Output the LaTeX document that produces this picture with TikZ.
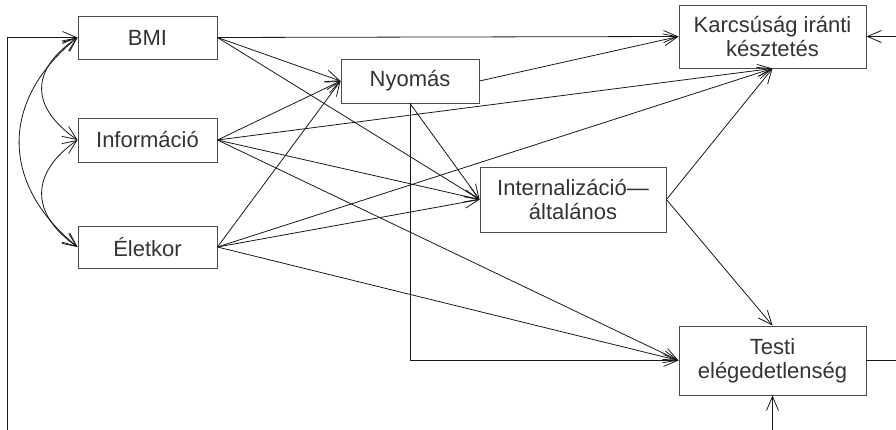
\documentclass[tikz,border=0pt]{standalone}
\usepackage{fontspec}
\setmainfont{Liberation Sans}
\usetikzlibrary{arrows.meta}
\begin{document}
\begin{tikzpicture}[x=1pt,y=-1pt,
  >={Straight Barb[length=14pt,width=12pt]},
  box/.style={draw=black!70, line width=0.9pt, inner sep=0pt, align=center,
    font=\fontsize{22}{24}\selectfont, text=black!80},
  conn/.style={draw=black!90, line width=0.8pt, ->},
  plain/.style={draw=black!90, line width=0.8pt},
  dbl/.style={draw=black!90, line width=0.8pt, <->}]
\useasboundingbox (0,0) rectangle (896,430);
\node[box, minimum width=139pt, minimum height=43pt] (bmi) at (147.5,37.5) {BMI};
\node[box, minimum width=139pt, minimum height=44pt] (inf) at (147.5,140) {Információ};
\node[box, minimum width=139pt, minimum height=42pt] (ele) at (147.5,247) {Életkor};
\node[box, minimum width=138pt, minimum height=44pt] (nyo) at (410,81) {Nyomás};
\node[box, minimum width=186pt, minimum height=65pt] (int) at (573,199.5) {Internalizáció—\\általános};
\node[box, minimum width=187pt, minimum height=63pt] (kar) at (772.5,36.5) {Karcsúság iránti\\késztetés};
\node[box, minimum width=187pt, minimum height=69pt] (tes) at (772.5,360.5) {Testi\\elégedetlenség};
\coordinate (fbl) at (7,430);
\coordinate (fkr) at (896,36.5);
\coordinate (ftr) at (896,360.5);
\coordinate (ftb) at (772.5,430);
% feedback and free ends
\draw[conn] (fbl) |- (bmi.west);
\draw[conn] (fkr) -- (kar.east);
\draw[plain] (tes.east) -- (ftr);
\draw[conn] (ftb) -- (tes.south);
% correlations
\draw[dbl] (bmi.west) .. controls (30,70) and (30,107) .. (inf.west);
\draw[dbl] (inf.west) .. controls (30,173) and (30,214) .. (ele.west);
\draw[dbl] (bmi.west) .. controls (0,100) and (0,184) .. (ele.west);
% BMI
\draw[conn] (bmi.east) -- (kar.west);
\draw[conn] (bmi.east) -- (nyo.west);
\draw[conn] (bmi.east) -- (int.west);
% Informacio
\draw[conn] (inf.east) -- (nyo.west);
\draw[conn] (inf.east) -- (kar.south);
\draw[conn] (inf.east) -- (int.west);
\draw[conn] (inf.east) -- (tes.west);
% Eletkor
\draw[conn] (ele.east) -- (nyo.west);
\draw[conn] (ele.east) -- (kar.south);
\draw[conn] (ele.east) -- (int.west);
\draw[conn] (ele.east) -- (tes.west);
% Nyomas
\draw[conn] (nyo.east) -- (kar.west);
\draw[conn] (nyo.south) -- (int.west);
\draw[conn] (nyo.south) |- (tes.west);
% Internalizacio
\draw[conn] (int.east) -- (kar.south);
\draw[conn] (int.east) -- (tes.north);
\end{tikzpicture}
\end{document}
